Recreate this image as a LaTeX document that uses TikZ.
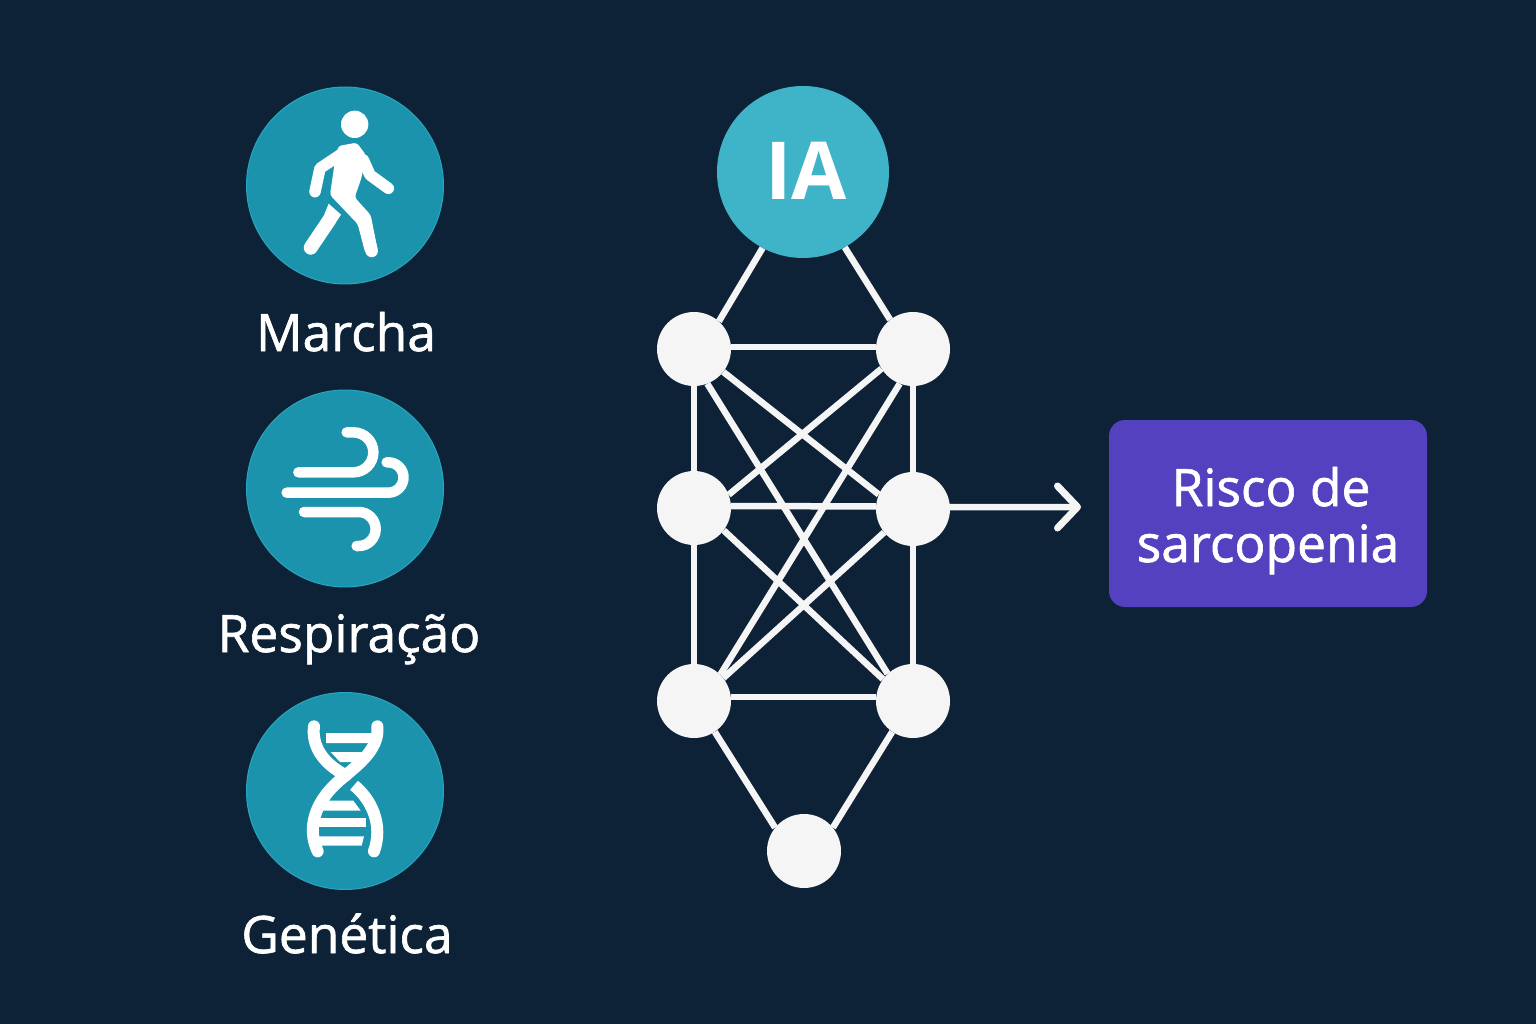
\documentclass[tikz,border=0pt]{standalone}
\usepackage{fontspec}
\setmainfont{Open Sans}
\newfontfamily\labelfont[FakeBold=1.2]{Open Sans}
\usetikzlibrary{positioning,arrows.meta}
\definecolor{bgblue}{HTML}{0D2237}
\definecolor{teal}{HTML}{1C93AD}
\definecolor{tealedge}{HTML}{27A6BD}
\definecolor{iablue}{HTML}{3FB4C8}
\definecolor{riskviolet}{HTML}{5341C0}
\definecolor{netwhite}{HTML}{F5F5F5}
\begin{document}
\begin{tikzpicture}[%
        x=1pt,y=-1pt,
        neuron/.style={%
          circle,
          minimum size=74pt,
          inner sep=0pt,
          fill=netwhite
        },
        iconbg/.style={circle,minimum size=197pt,inner sep=0pt,fill=teal,draw=tealedge,line width=1pt},
        label/.style={text=white,anchor=base,inner sep=0pt,font=\labelfont\fontsize{51.5}{52}\selectfont},
        link/.style={draw=netwhite,line width=6.5pt},
        glyph/.style={draw=white,line cap=round,line join=round}
      ]
      \fill[bgblue] (0,0) rectangle (1536,1024);
      % inputs
      \node[iconbg] (gait) at (345,185.5) {};
      \node[iconbg] (breath) at (345,488.5) {};
      \node[iconbg] (dna) at (345,791) {};
      \node[label] (gaitlabel) at (346,351) {Marcha};
      \node[label] (breathlabel) at (349,652) {Respiração};
      \node[label] (dnalabel) at (347,953) {Genética};
      % walker
      \begin{scope}[shift={(240,80)},x=1pt/3,y=-1pt/3]
        \fill[white] (344,133) circle (41pt/3);
        \draw[glyph,line width=11.5pt] (315,215) -- (240,265) -- (225,335);
        \draw[glyph,line width=11.5pt] (370,240) -- (390,285) -- (445,325);
        \fill[white,rounded corners=3pt] (295,198) -- (350,188) -- (378,225) -- (364,295) -- (344,352) -- (392,405) -- (414,515) -- (376,520) -- (353,432) -- (270,345) -- (283,255) -- cycle;
        \draw[glyph,line width=12.5pt] (373,425) -- (395,513);
        \fill[white] (266,371) -- (303,404) -- (285,431) -- (251,408) -- cycle;
        \draw[glyph,line width=14pt] (268,420) -- (212,503);
      \end{scope}
      % wind
      \begin{scope}[shift={(240,385)},x=1pt/3,y=-1pt/3]
        \draw[glyph,line width=10.5pt] (320,142) -- (340,142) arc[start angle=90,end angle=-90,radius=60pt/3] -- (175,262);
        \draw[glyph,line width=10.5pt] (440,232) -- (445,232) arc[start angle=90,end angle=-90,radius=45.5pt/3] -- (140,323);
        \draw[glyph,line width=10.5pt] (192,381) -- (356,381) arc[start angle=90,end angle=-90,radius=51pt/3] -- (350,483);
      \end{scope}
      % helix
      \begin{scope}[shift={(240,688)},x=1pt/3,y=-1pt/3]
        \draw[glyph,line width=12pt] (222,115) .. controls (215,170) and (245,225) .. (318,262);
        \draw[glyph,line width=12pt,line cap=butt] (342,292) .. controls (395,335) and (430,410) .. (402,490);
        \fill[white] (402,490) circle (6pt);
        \draw[glyph,line width=12pt] (412,115) .. controls (420,190) and (340,240) .. (290,285) .. controls (225,345) and (200,420) .. (233,490);
        \fill[white] (258,135) -- (398,135) -- (393,165) -- (258,165) -- cycle;
        \fill[white] (272,192) -- (388,192) -- (355,222) -- (300,222) -- cycle;
        \fill[white] (265,338) -- (340,338) -- (362,368) -- (245,368) -- cycle;
        \fill[white] (237,390) -- (378,390) -- (378,418) -- (237,418) -- cycle;
        \fill[white] (237,445) -- (372,445) -- (365,473) -- (237,473) -- cycle;
      \end{scope}
      % network
      \node[circle,minimum size=172pt,inner sep=0pt,fill=iablue] (ia) at (803,172) {};
      \node[text=white,anchor=base,inner sep=0pt,font=\bfseries\fontsize{80}{85}\selectfont] (ialabel) at (806,200) {IA};
      \node[neuron] (1) at (694,349) {};
      \node[neuron] (2) at (913,349) {};
      \node[neuron] (3) at (694,508) {};
      \node[neuron] (4) at (913,509) {};
      \node[neuron] (5) at (694,701) {};
      \node[neuron] (6) at (913,701) {};
      \node[neuron] (7) at (804,851) {};
      \node[fill=riskviolet,rounded corners=16pt,minimum width=318pt,minimum height=187pt,inner sep=0pt] (risk) at (1268,513.5) {};
      \node[label] (risklabel) at (1271,506) {Risco de};
      \node[label] (risklabeltwo) at (1268,562) {sarcopenia};
      \coordinate (tip) at (1081,507);
      \path[link] (ia.242) edge (1.48) (ia.299) edge (2.128)
      (1.3) edge (2.177) (3.3) edge (4.176) (5.6) edge (6.174)
      (1) edge (3) (3) edge (5) (2) edge (4) (4) edge (6)
      (1.-38) edge (4.157) (1.-69) edge (6.133)
      (2.212) edge (3.21) (2.249) edge (5.45)
      (3.-37) edge (6.144) (4.219) edge (5.38)
      (5.-56) edge (7.141) (6.236) edge (7.39);
      \draw[link,line cap=round,-{Straight Barb[round,length=20pt,width=42pt,line width=7pt]}] (4.3) -- (tip);
  \end{tikzpicture}
\end{document}
